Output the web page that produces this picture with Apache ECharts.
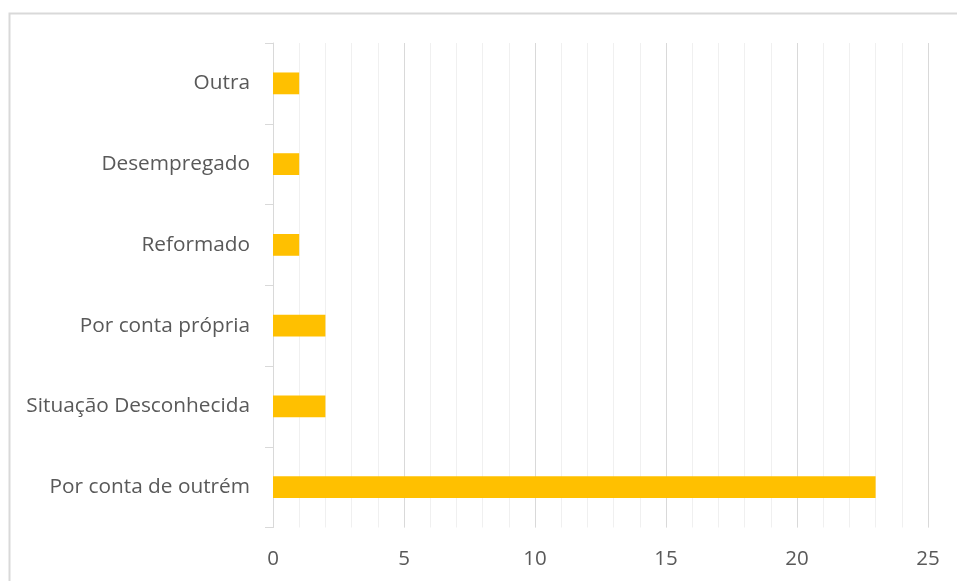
<!DOCTYPE html>
<html>
<head>
<meta charset="utf-8">
<script src="https://cdn.jsdelivr.net/npm/echarts@6/dist/echarts.min.js"></script>
<style>
html,body{margin:0;padding:0;background:#fff;}
#chart{width:957px;height:581px;}
</style>
</head>
<body>
<div id="chart"></div>
<script>
const categories = ["Por conta de outrém", "Situação Desconhecida", "Por conta própria", "Reformado", "Desempregado", "Outra"];
const values = [23, 2, 2, 1, 1, 1];
const xMin = 0, xMax = 25, xMajor = 5, xMinor = 1;

const chart = echarts.init(document.getElementById('chart'), null, {renderer: 'canvas'});
const font = "'Open Sans', 'Noto Sans', sans-serif";
chart.setOption({
  animation: false,
  backgroundColor: '#ffffff',
  graphic: [{
    type: 'rect', silent: true, z: -1,
    shape: {x: 9.5, y: 13.5, width: 1000, height: 700},
    style: {fill: 'none', stroke: '#d9d9d9', lineWidth: 2}
  }],
  grid: {left: 273, right: 957 - 928, top: 43, bottom: 581 - 527.5, containLabel: false},
  xAxis: [{
    type: 'value', min: xMin, max: xMax, interval: xMinor,
    axisLine: {show: false}, axisTick: {show: false}, axisLabel: {show: false},
    splitLine: {show: true, lineStyle: {color: '#f0f0f0', width: 1}}
  }, {
    type: 'value', min: xMin, max: xMax, interval: xMajor, position: 'bottom',
    axisLine: {show: false}, axisTick: {show: false},
    axisLabel: {color: '#595959', fontSize: 20.5, fontFamily: font, margin: 21},
    splitLine: {show: true, lineStyle: {color: '#d9d9d9', width: 1}}
  }],
  yAxis: {
    type: 'category', data: categories,
    axisLine: {show: true, lineStyle: {color: '#d9d9d9', width: 1}},
    axisTick: {show: true, length: 8, lineStyle: {color: '#d9d9d9'}},
    axisLabel: {color: '#595959', fontSize: 20.8, fontFamily: font, margin: 23},
    splitLine: {show: false}
  },
  series: [{
    type: 'bar', xAxisIndex: 1, data: values,
    barWidth: '27%',
    itemStyle: {color: '#ffc000'},
    z: 3
  }]
});
</script>
</body>
</html>
